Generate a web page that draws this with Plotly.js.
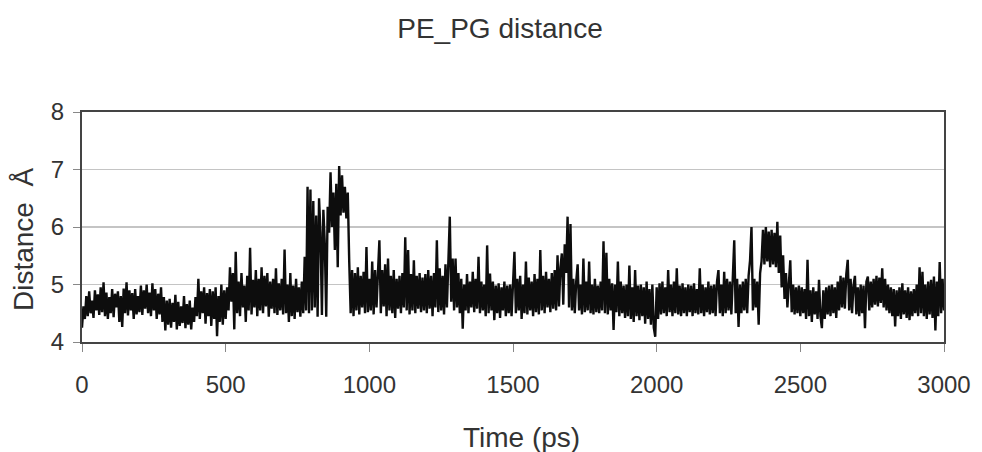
<!DOCTYPE html>
<html>
<head>
<meta charset="utf-8">
<script src="https://cdn.plot.ly/plotly-3.0.1.min.js"></script>
<style>
html, body { margin: 0; padding: 0; background: #fff; }
#chart { width: 982px; height: 452px; }
</style>
</head>
<body>
<div id="chart"></div>
<script>
// Sampling: one value every 5 ps, from 0 to 3000 ps
const timeStart = 0;
const timeStep = 5;

// PE_PG distance (Å), one row per 100 ps (20 samples each)
const distance = [
  4.25, 4.62, 4.40, 4.80, 4.45, 4.88, 4.50, 4.72, 4.42, 4.90, 4.55, 4.83, 4.47, 4.95, 4.52, 5.04, 4.45, 4.86, 4.40, 4.78,
  4.50, 4.92, 4.43, 4.84, 4.60, 4.88, 4.35, 4.80, 4.26, 4.93, 4.50, 5.04, 4.46, 4.90, 4.55, 4.85, 4.40, 4.92, 4.48, 4.80,
  4.52, 4.98, 4.47, 4.90, 4.58, 5.00, 4.50, 4.86, 4.45, 5.02, 4.55, 4.92, 4.40, 4.84, 4.48, 4.95, 4.35, 4.78, 4.20, 4.72,
  4.30, 4.75, 4.25, 4.68, 4.35, 4.82, 4.22, 4.70, 4.28, 4.62, 4.33, 4.80, 4.24, 4.66, 4.30, 4.72, 4.22, 4.60, 4.35, 4.78,
  4.45, 5.10, 4.40, 4.88, 4.50, 4.95, 4.32, 4.85, 4.45, 4.92, 4.28, 4.88, 4.40, 4.95, 4.10, 4.80, 4.35, 5.00, 4.30, 4.90,
  4.40, 4.95, 4.55, 5.30, 4.70, 5.20, 4.22, 5.57, 4.50, 5.05, 4.45, 5.20, 4.60, 4.98, 4.35, 5.15, 4.55, 5.64, 4.48, 5.08,
  4.60, 5.25, 4.45, 5.10, 4.55, 5.30, 4.50, 5.15, 4.62, 5.20, 4.44, 5.05, 4.58, 5.10, 4.50, 5.28, 4.47, 5.02, 4.55, 5.10,
  4.48, 5.61, 4.50, 5.00, 4.35, 5.20, 4.45, 4.98, 4.40, 5.10, 4.52, 4.95, 4.44, 5.05, 4.50, 5.48, 4.55, 6.70, 4.50, 6.65,
  4.55, 6.45, 4.60, 6.20, 4.44, 6.50, 5.90, 4.47, 6.30, 5.70, 4.44, 6.35, 5.90, 6.95, 6.00, 6.60, 5.60, 6.75, 5.30, 7.06,
  6.20, 6.90, 6.25, 6.70, 6.15, 6.60, 5.40, 4.50, 5.25, 4.45, 5.20, 4.55, 5.30, 4.48, 5.15, 4.60, 5.22, 4.50, 5.65, 4.52,
  5.10, 4.55, 5.40, 4.48, 5.25, 4.60, 5.20, 5.77, 4.50, 5.25, 4.62, 5.35, 4.45, 5.45, 4.55, 5.15, 4.50, 5.25, 4.42, 5.10,
  4.58, 5.15, 4.50, 5.20, 4.60, 5.82, 4.55, 5.60, 4.48, 5.18, 4.55, 5.42, 4.50, 5.15, 4.58, 5.20, 4.52, 5.12, 4.55, 5.18,
  4.50, 5.25, 4.58, 5.15, 4.45, 5.20, 4.60, 5.77, 4.52, 5.28, 4.55, 5.15, 4.48, 5.35, 4.60, 5.30, 6.18, 4.70, 5.45, 4.55,
  5.45, 4.60, 5.20, 4.50, 5.10, 4.23, 5.00, 4.55, 5.18, 4.50, 5.05, 4.60, 5.22, 4.52, 5.10, 4.58, 5.48, 4.50, 5.05, 4.55,
  5.00, 4.45, 5.68, 4.50, 5.19, 4.55, 5.05, 4.38, 4.98, 4.50, 5.02, 4.42, 4.95, 4.55, 5.05, 4.45, 4.98, 4.50, 5.00, 4.45,
  5.00, 5.57, 4.50, 5.10, 4.55, 5.15, 4.40, 5.00, 4.50, 5.40, 4.48, 5.12, 4.55, 5.05, 4.45, 5.18, 4.52, 5.10, 4.48, 5.60,
  4.55, 5.15, 4.50, 5.22, 4.60, 5.10, 4.52, 5.20, 4.58, 5.25, 4.55, 5.51, 4.62, 5.30, 5.54, 4.65, 5.70, 5.20, 6.18, 4.60,
  6.05, 4.55, 5.10, 4.50, 5.05, 5.35, 4.55, 5.00, 4.48, 5.45, 4.52, 5.05, 4.55, 5.40, 4.50, 5.00, 4.48, 5.10, 4.52, 4.98,
  4.50, 5.05, 4.55, 5.75, 4.50, 5.55, 4.48, 5.10, 4.55, 5.02, 4.21, 5.00, 4.52, 5.40, 4.45, 5.05, 4.50, 4.98, 4.42, 5.00,
  4.45, 5.33, 4.40, 4.95, 4.35, 5.25, 4.45, 4.98, 4.38, 5.00, 4.45, 4.95, 4.32, 5.05, 4.40, 4.92, 4.30, 5.00, 4.25, 4.09,
  4.95, 4.40, 5.02, 4.48, 5.05, 4.50, 4.95, 4.45, 5.25, 4.52, 5.00, 4.45, 5.05, 4.50, 5.28, 4.48, 4.98, 4.45, 5.02, 4.50,
  4.95, 4.45, 5.00, 4.52, 4.98, 4.45, 5.02, 4.50, 4.92, 4.48, 5.28, 4.50, 5.00, 4.45, 4.95, 4.52, 5.05, 4.48, 4.98, 4.50,
  5.00, 4.45, 5.05, 5.25, 4.50, 5.00, 4.45, 5.22, 4.50, 5.10, 4.55, 5.05, 4.48, 5.15, 5.77, 4.50, 5.10, 4.26, 5.00, 4.50,
  5.05, 4.55, 5.10, 4.50, 5.15, 5.42, 6.00, 4.55, 5.10, 4.60, 5.05, 4.30, 5.20, 5.40, 5.95, 5.35, 6.00, 5.40, 5.92, 5.30,
  5.95, 5.35, 5.90, 5.30, 6.09, 5.20, 5.85, 4.95, 5.51, 4.75, 5.20, 4.60, 5.05, 5.42, 4.52, 5.00, 4.48, 4.95, 4.50, 4.98,
  4.45, 4.95, 4.50, 4.92, 4.40, 5.43, 4.45, 4.90, 4.35, 4.95, 4.48, 4.88, 4.40, 5.08, 4.45, 4.24, 4.90, 4.40, 4.95, 4.48,
  4.98, 4.45, 5.00, 4.50, 4.95, 4.42, 5.05, 4.55, 5.15, 4.60, 5.12, 4.58, 5.18, 5.43, 4.55, 5.10, 4.50, 4.98, 5.15, 4.48,
  4.95, 4.45, 5.00, 4.50, 4.98, 4.24, 5.05, 5.14, 4.55, 5.05, 4.60, 5.10, 4.65, 5.15, 4.62, 5.12, 4.68, 5.28, 4.60, 5.10,
  4.55, 5.00, 4.50, 4.95, 4.45, 4.92, 4.27, 4.90, 4.45, 4.95, 4.40, 5.02, 4.48, 4.90, 4.42, 4.95, 4.38, 4.88, 4.45, 4.92,
  4.50, 5.00, 4.45, 5.30, 4.50, 5.22, 4.45, 5.00, 4.40, 5.05, 4.48, 5.08, 4.42, 5.14, 4.20, 5.05, 4.45, 5.39, 4.50, 5.10,
  4.55
];

const xTickVals = [0, 500, 1000, 1500, 2000, 2500, 3000];
const yTickVals = [4, 5, 6, 7, 8];

const chartTitle = 'PE_PG distance';
const xTitle = 'Time (ps)';
const yTitle = 'Distance\u00a0 Å';

const time = distance.map((_, i) => timeStart + i * timeStep);

const font = 'Liberation Sans, Arial, sans-serif';
const textColor = '#333333';

Plotly.newPlot('chart', [{
  x: time,
  y: distance,
  type: 'scatter',
  mode: 'lines',
  line: { color: '#0d0d0d', width: 2.4 },
  hoverinfo: 'x+y'
}], {
  width: 982,
  height: 452,
  paper_bgcolor: '#ffffff',
  plot_bgcolor: '#ffffff',
  showlegend: false,
  margin: { l: 82, r: 38, t: 112, b: 110 },
  font: { family: font, color: textColor, size: 24 },
  title: {
    text: chartTitle,
    font: { family: font, size: 28, color: textColor },
    xref: 'container', x: 500 / 982, xanchor: 'center',
    yref: 'container', y: 1 - 28 / 452, yanchor: 'middle'
  },
  xaxis: {
    range: [0, 3000],
    tickvals: xTickVals,
    ticktext: xTickVals.map(String),
    ticks: 'outside', ticklen: 8, tickcolor: '#888888', tickwidth: 1,
    showgrid: false, zeroline: false,
    showline: true, mirror: true, linecolor: '#444444', linewidth: 2,
    tickfont: { family: font, size: 24, color: textColor },
    ticklabelstandoff: 12
  },
  yaxis: {
    range: [4, 8],
    tickvals: yTickVals,
    ticktext: yTickVals.map(String),
    ticks: 'outside', ticklen: 7, tickcolor: '#888888', tickwidth: 1,
    showgrid: true, gridcolor: '#c4c4c4', gridwidth: 1.5, zeroline: false,
    showline: true, mirror: true, linecolor: '#444444', linewidth: 2,
    tickfont: { family: font, size: 24, color: textColor },
    ticklabelstandoff: 4
  },
  annotations: [
    {
      text: xTitle, showarrow: false,
      xref: 'paper', yref: 'paper',
      x: (521 - 82) / 862, y: (342 - 437) / 230,
      xanchor: 'center', yanchor: 'middle',
      font: { family: font, size: 28, color: textColor }
    },
    {
      text: yTitle, showarrow: false, textangle: -90,
      xref: 'paper', yref: 'paper',
      x: (23 - 82) / 862, y: (342 - 240) / 230,
      xanchor: 'center', yanchor: 'middle',
      font: { family: font, size: 28, color: textColor }
    }
  ]
}, { displayModeBar: false, staticPlot: true });
</script>
</body>
</html>
